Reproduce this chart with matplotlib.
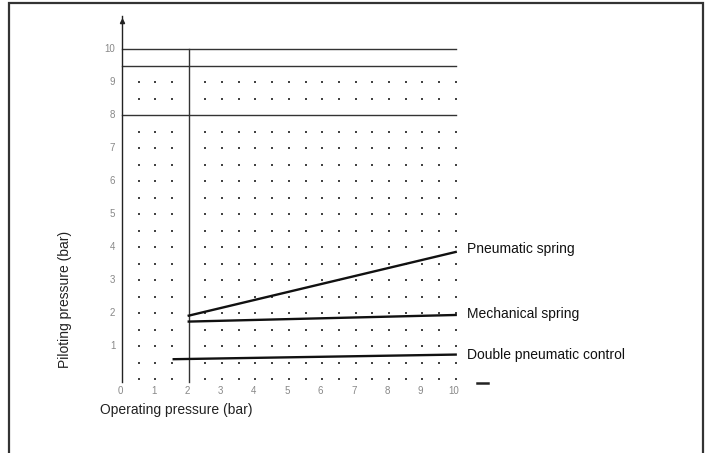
import numpy as np
import matplotlib
matplotlib.use("Agg")
import matplotlib.pyplot as plt
from matplotlib.patches import Rectangle

plt.rcParams['font.family'] = ['Liberation Sans', 'DejaVu Sans']

# operating pressure (bar) -> piloting pressure (bar)
pneumatic_x = [2, 10]
pneumatic_y = [1.92, 3.85]
mechanical_x = [2, 10]
mechanical_y = [1.74, 1.94]
double_x = [1.55, 10]
double_y = [0.6, 0.74]

curve_names = ["Pneumatic spring", "Mechanical spring", "Double pneumatic control"]
label_y = [3.93, 1.96, 0.72]
x_ticks = [0, 1, 2, 3, 4, 5, 6, 7, 8, 9, 10]
y_ticks = [1, 2, 3, 4, 5, 6, 7, 8, 9, 10]
grid_lines_y = [10, 9.5, 8]

fig = plt.figure(figsize=(7.12, 4.53), dpi=100)
W, H = 712, 453
ax = fig.add_axes([122 / W, (H - 379) / H, 333.7 / W, 330 / H])
ax.set_xlim(0, 10)
ax.set_ylim(0, 10)
ax.axis("off")

# outer frame (bottom is cut off in the original)
fig.patches.append(Rectangle((9 / W, -0.01), (703 - 9) / W, (H - 2.7) / H + 0.01,
                             transform=fig.transFigure, fill=False,
                             edgecolor="#333333", linewidth=1.6))

# dot grid
dot_x = [v for v in np.arange(0.5, 10.01, 0.5) if v != 2]
dot_y = [v for v in np.arange(0, 9.01, 0.5) if v not in (8, 9.5)]
gx, gy = np.meshgrid(dot_x, dot_y)
ax.scatter(gx.ravel(), gy.ravel(), s=1.6, marker="s", color="#444444",
           linewidths=0, clip_on=False)

# frame lines
for yv in grid_lines_y:
    ax.plot([0, 10], [yv, yv], color="#333333", lw=1.0, clip_on=False)
ax.plot([2, 2], [-0.1, 10], color="#333333", lw=1.0, clip_on=False)

# y axis with arrow
ax.plot([0, 0], [-0.1, 11.0], color="#222222", lw=1.0, clip_on=False)
ax.plot([0], [10.85], marker="^", ms=3, color="#222222", clip_on=False)
# stray x-axis arrow tip
ax.plot([10.65, 10.97], [-0.12, -0.12], color="#222222", lw=1.8, clip_on=False)

# curves
for xs, ys in [(pneumatic_x, pneumatic_y), (mechanical_x, mechanical_y), (double_x, double_y)]:
    ax.plot(xs, ys, color="#111111", lw=1.7, clip_on=False)

# curve labels
for name, yl in zip(curve_names, label_y):
    ax.text(10.35, yl, name, fontsize=10, ha="left", va="center",
            color="#111111", clip_on=False)

# tick labels
for v in x_ticks:
    ax.text(v - 0.05, -0.35, str(v), fontsize=7, color="#888888", ha="center",
            va="center", clip_on=False)
for v in y_ticks:
    ax.text(-0.2, v, str(v), fontsize=7, color="#888888", ha="right",
            va="center", clip_on=False)

# axis titles
ax.text(-0.66, -0.95, "Operating pressure (bar)", fontsize=10, ha="left",
        va="center", color="#222222", clip_on=False)
ax.text(-1.71, 2.42, "Piloting pressure (bar)", fontsize=10, ha="center",
        va="center", rotation=90, color="#222222", clip_on=False)

fig.savefig("out.png", dpi=100)
